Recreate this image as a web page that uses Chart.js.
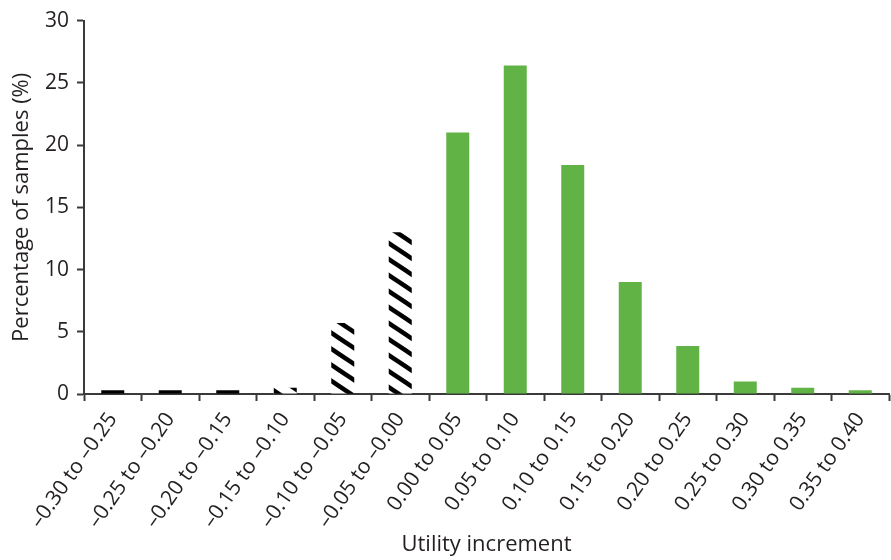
<!DOCTYPE html>
<html>
<head>
    <title>Utility increment</title>
    <script src="https://cdn.jsdelivr.net/npm/chart.js"></script>
    <style>
        body { margin: 0; background: #fff; }
        #chart-container { width: 891px; height: 560px; }
    </style>
</head>
<body>
    <div id="chart-container">
        <canvas id="utilChart" width="891" height="560"></canvas>
    </div>
    <script>
        // Categories (utility increment bins)
        const categories = [
            '\u20130.30 to \u20130.25', '\u20130.25 to \u20130.20', '\u20130.20 to \u20130.15',
            '\u20130.15 to \u20130.10', '\u20130.10 to \u20130.05', '\u20130.05 to \u20130.00',
            '0.00 to 0.05', '0.05 to 0.10', '0.10 to 0.15', '0.15 to 0.20',
            '0.20 to 0.25', '0.25 to 0.30', '0.30 to 0.35', '0.35 to 0.40'
        ];
        // Percentage of samples (%)
        const percentages = [0.3, 0.3, 0.3, 0.5, 5.7, 13.0, 21.0, 26.4, 18.4, 9.0, 3.85, 1.0, 0.5, 0.3];
        // Fill style per bar: 'solid' black, 'hatch' black diagonal stripes, 'green'
        const barKinds = ['solid', 'solid', 'solid', 'hatch', 'hatch', 'hatch',
            'green', 'green', 'green', 'green', 'green', 'green', 'green', 'green'];
        const yTicks = [0, 5, 10, 15, 20, 25, 30];

        const textColor = '#231f20';
        const axisColor = '#3a3a3a';
        const green = '#62b346';
        const fontFamily = "'Open Sans', 'Noto Sans', sans-serif";

        // Diagonal hatch pattern ("\" stripes, top-left to bottom-right)
        function makeHatch() {
            const w = 24, h = 16;
            const c = document.createElement('canvas');
            c.width = w; c.height = h;
            const g = c.getContext('2d');
            g.fillStyle = '#fff';
            g.fillRect(0, 0, w, h);
            g.strokeStyle = '#000';
            g.lineWidth = 4.5;
            for (let k = -1; k <= 1; k++) {
                g.beginPath();
                g.moveTo(-w, -h + k * h);
                g.lineTo(2 * w, 2 * h + k * h);
                g.stroke();
            }
            return g.createPattern(c, 'repeat');
        }
        const hatch = makeHatch();
        const barColors = barKinds.map(k => k === 'green' ? green : (k === 'hatch' ? hatch : '#000'));

        function createChart() {
            const ctx = document.getElementById('utilChart').getContext('2d');
            return new Chart(ctx, {
                type: 'bar',
                data: {
                    labels: categories,
                    datasets: [{
                        data: percentages,
                        backgroundColor: barColors,
                        borderWidth: 0,
                        barPercentage: 0.4,
                        categoryPercentage: 1.0
                    }]
                },
                options: {
                    responsive: false,
                    animation: false,
                    layout: { padding: { left: 9, right: 2, top: 20, bottom: 2 } },
                    plugins: {
                        legend: { display: false },
                        tooltip: { enabled: false }
                    },
                    scales: {
                        x: {
                            offset: true,
                            grid: {
                                offset: true,
                                drawOnChartArea: false,
                                drawTicks: true,
                                tickLength: 7,
                                tickWidth: 2,
                                color: axisColor
                            },
                            border: { color: axisColor, width: 2 },
                            ticks: {
                                minRotation: 55,
                                maxRotation: 55,
                                autoSkip: false,
                                padding: 7,
                                color: textColor,
                                font: { family: fontFamily, size: 21 }
                            },
                            title: {
                                display: true,
                                text: 'Utility increment',
                                color: textColor,
                                font: { family: fontFamily, size: 22 },
                                padding: { top: 2, bottom: 0 }
                            },
                            afterFit: scale => { scale.height = 560 - 394 - 2; }
                        },
                        y: {
                            min: 0,
                            max: 30,
                            afterBuildTicks: scale => { scale.ticks = yTicks.map(v => ({ value: v })); },
                            grid: {
                                drawOnChartArea: false,
                                drawTicks: true,
                                tickLength: 7,
                                tickWidth: 2,
                                color: axisColor
                            },
                            border: { color: axisColor, width: 2 },
                            ticks: {
                                padding: 8,
                                color: textColor,
                                font: { family: fontFamily, size: 21 }
                            },
                            title: {
                                display: true,
                                text: 'Percentage of samples (%)',
                                color: textColor,
                                font: { family: fontFamily, size: 22 },
                                padding: { top: 0, bottom: 2 }
                            },
                            afterFit: scale => { scale.width = 84 - 9; }
                        }
                    }
                }
            });
        }

        createChart();
    </script>
</body>
</html>
